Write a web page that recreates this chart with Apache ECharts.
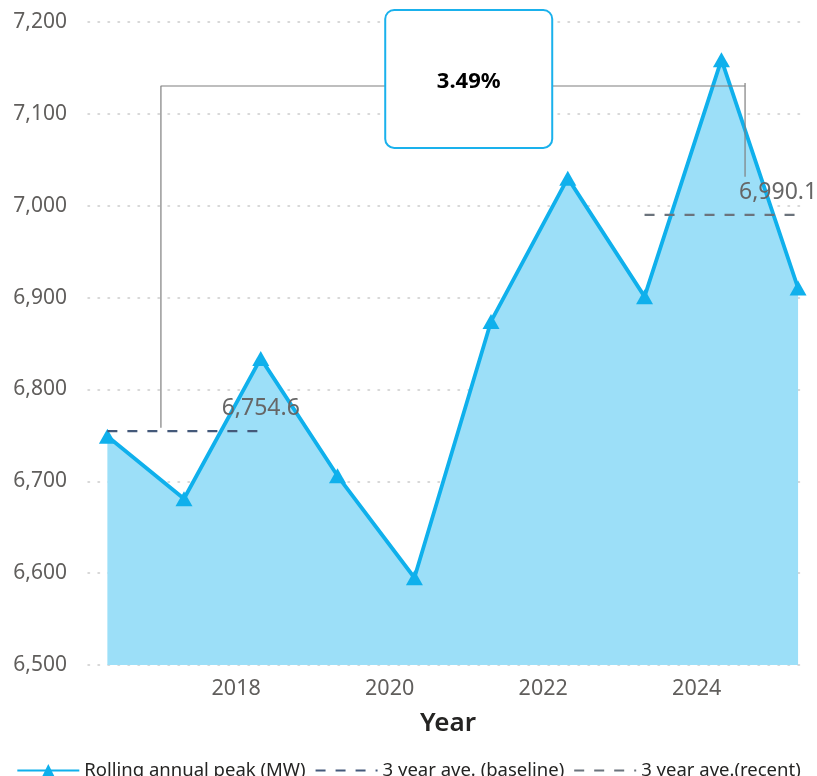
<!DOCTYPE html>
<html>
<head>
<meta charset="utf-8">
<script src="https://cdn.jsdelivr.net/npm/echarts@6/dist/echarts.min.js"></script>
<style>
  html, body { margin: 0; padding: 0; background: #ffffff; }
  #chart { width: 817px; height: 776px; }
</style>
</head>
<body>
<div id="chart"></div>
<script>
// ---- data ----
var periodEnds = ['2016-04-28', '2017-04-28', '2018-04-28', '2019-04-28', '2020-04-28',
                  '2021-04-28', '2022-04-28', '2023-04-28', '2024-04-28', '2025-04-28'];
var rollingPeak = [6749.0, 6681.0, 6833.8, 6706.0, 6595.0, 6874.0, 7030.0, 6901.0, 7159.0, 6910.3];
var yearTicks = [2018, 2020, 2022, 2024];
var yTickValues = [6500, 6600, 6700, 6800, 6900, 7000, 7100, 7200];
var seriesNames = ['Rolling annual peak (MW)', '3 year ave. (baseline)', '3 year ave.(recent)'];
var baselineIdx = [0, 1, 2];
var recentIdx = [7, 8, 9];

function toYear(s) {
  var p = s.split('-').map(Number);
  var start = Date.UTC(p[0], 0, 1), end = Date.UTC(p[0] + 1, 0, 1);
  return p[0] + (Date.UTC(p[0], p[1] - 1, p[2]) - start) / (end - start);
}
var xs = periodEnds.map(toYear);
function mean(idx) { return idx.reduce(function (a, i) { return a + rollingPeak[i]; }, 0) / idx.length; }
var baseAvg = Math.round(mean(baselineIdx) * 10) / 10;
var recentAvg = Math.round(mean(recentIdx) * 10) / 10;
var pct = (recentAvg / baseAvg - 1) * 100;
function fmt1(v) { return v.toLocaleString('en-US', { minimumFractionDigits: 1, maximumFractionDigits: 1 }); }

// annotation anchors (data coordinates)
var bracketLeftX = 2017.02, bracketRightX = 2024.63, bracketTopY = 7130.3;
var bracketLeftBottom = 6758.4, bracketRightBottom = 7031.6, bracketRightTick = 7133.6;
var boxCenter = [2021.03, 7138.0];

var FONT = 'Noto Sans';
var chart = echarts.init(document.getElementById('chart'));

function avgLabel(txt, offset) {
  return {
    show: true, formatter: txt, position: 'top', distance: 11, offset: offset,
    fontFamily: FONT, fontSize: 23, color: '#666666'
  };
}

var option = {
  animation: false,
  backgroundColor: '#ffffff',
  textStyle: { fontFamily: FONT },
  grid: { left: 88, right: 9, top: 22, bottom: 111 },
  legend: {
    data: [
      { name: seriesNames[0] },
      { name: seriesNames[1], itemStyle: { opacity: 0 } },
      { name: seriesNames[2], itemStyle: { opacity: 0 } }
    ],
    left: 'center',
    top: 756,
    itemWidth: 62,
    itemHeight: 16,
    itemGap: 9,
    textStyle: { fontFamily: FONT, fontSize: 18.5, color: '#252423' }
  },
  xAxis: {
    type: 'value',
    min: 2016.07,
    max: 2025.45,
    axisLine: { show: false },
    axisTick: { show: false },
    splitLine: { show: false },
    axisLabel: {
      customValues: yearTicks,
      formatter: function (v) { return String(Math.round(v)); },
      fontFamily: FONT, fontSize: 21.5, color: '#605e5c', margin: 13
    },
    name: 'Year',
    nameLocation: 'middle',
    nameGap: 46,
    nameTextStyle: { fontFamily: FONT, fontSize: 26, fontWeight: 600, color: '#252423' }
  },
  yAxis: {
    type: 'value',
    min: yTickValues[0],
    max: yTickValues[yTickValues.length - 1],
    interval: 100,
    axisLine: { show: false },
    axisTick: { show: false },
    axisLabel: { fontFamily: FONT, fontSize: 21, color: '#605e5c', margin: 21 },
    splitLine: { show: true, lineStyle: { color: '#cccccc', width: 1.5, type: [1.5, 8.5], cap: 'round' } }
  },
  series: [
    {
      name: seriesNames[0],
      type: 'line',
      data: xs.map(function (x, i) { return [x, rollingPeak[i]]; }),
      symbol: 'triangle',
      symbolSize: [17, 15],
      showSymbol: true,
      itemStyle: { color: '#0fb0ec' },
      lineStyle: { color: '#0fb0ec', width: 3.8 },
      areaStyle: { color: '#9cdff8', opacity: 1, origin: 'start' },
      z: 2
    },
    {
      name: seriesNames[1],
      type: 'line',
      data: [[xs[baselineIdx[0]], baseAvg], [xs[baselineIdx[2]], baseAvg]],
      symbol: 'none',
      lineStyle: { color: '#44597a', width: 2.2, type: [10, 10] },
      itemStyle: { color: '#44597a' },
      markPoint: {
        symbol: 'circle',
        symbolSize: 0,
        itemStyle: { color: 'rgba(0,0,0,0)' },
        data: [{ coord: [xs[baselineIdx[2]], baseAvg], label: avgLabel(fmt1(baseAvg), [0, 0]) }]
      },
      z: 4
    },
    {
      name: seriesNames[2],
      type: 'line',
      data: [[xs[recentIdx[0]], recentAvg], [xs[recentIdx[2]], recentAvg]],
      symbol: 'none',
      lineStyle: { color: '#6b737c', width: 2.2, type: [10, 10] },
      itemStyle: { color: '#6b737c' },
      markPoint: {
        symbol: 'circle',
        symbolSize: 0,
        itemStyle: { color: 'rgba(0,0,0,0)' },
        data: [{ coord: [xs[recentIdx[2]], recentAvg], label: avgLabel(fmt1(recentAvg), [-20, 0]) }]
      },
      z: 4
    },
    {
      name: 'bracket',
      type: 'line',
      data: [[bracketLeftX, bracketLeftBottom], [bracketLeftX, bracketTopY], [bracketRightX, bracketTopY],
             [bracketRightX, bracketRightTick], [bracketRightX, bracketRightBottom]],
      symbol: 'none',
      silent: true,
      lineStyle: { color: '#7f7f7f', width: 1.2 },
      z: 5
    }
  ]
};
chart.setOption(option);

var c = chart.convertToPixel({ gridIndex: 0 }, boxCenter);
var bw = 167, bh = 138;
chart.setOption({
  graphic: [
    {
      type: 'rect', z: 100,
      shape: { x: c[0] - bw / 2, y: c[1] - bh / 2, width: bw, height: bh, r: 9 },
      style: { fill: '#ffffff', stroke: '#1ab1ec', lineWidth: 2 }
    },
    {
      type: 'text', z: 101,
      x: c[0], y: c[1] + 3,
      style: {
        text: pct.toFixed(2) + '%',
        fontFamily: FONT, fontSize: 22, fontWeight: 'bold', fill: '#000000',
        align: 'center', verticalAlign: 'middle'
      }
    }
  ]
});
</script>
</body>
</html>
